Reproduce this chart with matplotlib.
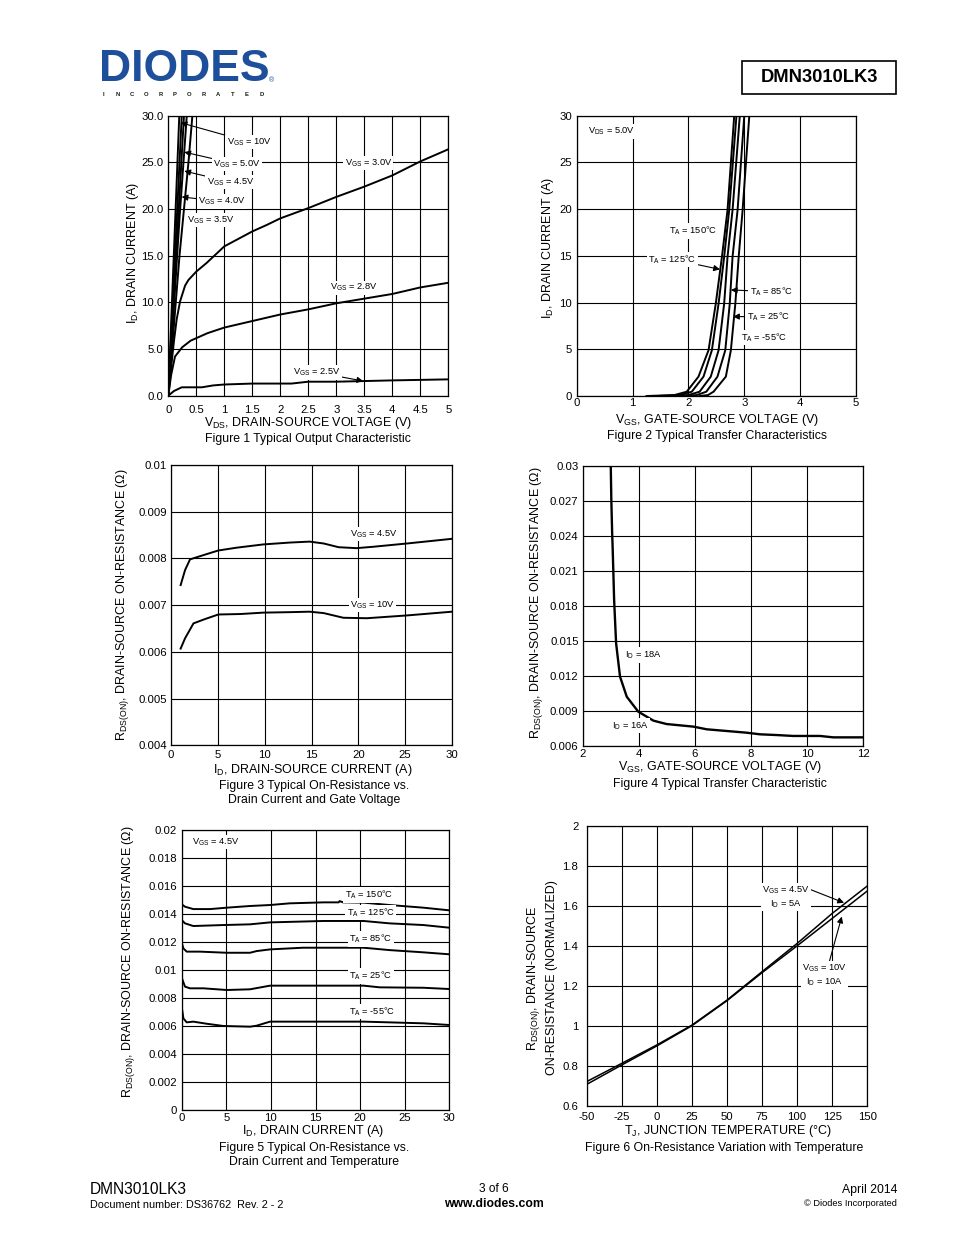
import matplotlib
matplotlib.use("Agg")
import matplotlib.pyplot as plt
from matplotlib.lines import Line2D
from matplotlib.patches import Rectangle

plt.rcParams['font.family'] = ['Liberation Sans', 'DejaVu Sans']
plt.rcParams['mathtext.fontset'] = 'custom'
plt.rcParams['mathtext.rm'] = 'Liberation Sans'
plt.rcParams['mathtext.it'] = 'Liberation Sans:italic'
plt.rcParams['mathtext.bf'] = 'Liberation Sans:bold'

# ---- Figure 1: output characteristic ----
f1_vgs10_vds = [0, 0.196]
f1_vgs10_id = [0, 30]
f1_vgs50_vds = [0, 0.24]
f1_vgs50_id = [0, 30]
f1_vgs45_vds = [0, 0.28]
f1_vgs45_id = [0, 30]
f1_vgs40_vds = [0, 0.20, 0.33]
f1_vgs40_id = [0, 19, 30]
f1_vgs35_vds = [0, 0.10, 0.20, 0.28, 0.36, 0.43]
f1_vgs35_id = [0, 7.5, 15, 20, 25, 30]
f1_vgs30_vds = [0, 0.05, 0.1, 0.15, 0.21, 0.3, 0.36, 0.5, 0.68, 1.0, 1.5, 1.76, 2.0, 2.5, 3.0, 3.5, 4.0, 4.5, 5.0]
f1_vgs30_id = [0, 3.0, 5.8, 8.2, 10.1, 11.8, 12.4, 13.3, 14.2, 16.0, 17.6, 18.3, 19.0, 20.1, 21.3, 22.4, 23.6, 25.1, 26.4]
f1_vgs28_vds = [0, 0.05, 0.12, 0.25, 0.4, 0.7, 1.0, 1.5, 2.0, 2.5, 3.0, 3.5, 4.0, 4.5, 5.0]
f1_vgs28_id = [0, 2.2, 4.2, 5.2, 5.9, 6.7, 7.3, 8.0, 8.7, 9.25, 9.9, 10.4, 10.9, 11.6, 12.1]
f1_vgs25_vds = [0, 0.1, 0.24, 0.6, 0.8, 1.0, 1.5, 2.2, 2.5, 3.0, 3.5, 4.0, 5.0]
f1_vgs25_id = [0, 0.5, 0.9, 0.9, 1.1, 1.2, 1.3, 1.3, 1.5, 1.5, 1.57, 1.64, 1.75]
f1_xticks = [0, 0.5, 1, 1.5, 2, 2.5, 3, 3.5, 4, 4.5, 5]
f1_xlabels = ["0", "0.5", "1", "1.5", "2", "2.5", "3", "3.5", "4", "4.5", "5"]
f1_yticks = [0, 5, 10, 15, 20, 25, 30]
f1_ylabels = ["0.0", "5.0", "10.0", "15.0", "20.0", "25.0", "30.0"]

# ---- Figure 2: transfer characteristics ----
f2_id = [0, 0.1, 0.46, 2.07, 4.9, 9.9, 14.9, 19.9, 30]
f2_vgs_150 = [1.25, 1.75, 1.97, 2.18, 2.36, 2.49, 2.60, 2.70, 2.82]
f2_vgs_125 = [1.45, 1.85, 2.06, 2.27, 2.42, 2.54, 2.64, 2.73, 2.86]
f2_vgs_85 = [1.65, 2.00, 2.20, 2.40, 2.54, 2.64, 2.70, 2.79, 2.92]
f2_vgs_25 = [1.90, 2.15, 2.32, 2.52, 2.66, 2.74, 2.79, 2.88, 3.00]
f2_vgs_m55 = [2.20, 2.35, 2.45, 2.67, 2.76, 2.84, 2.90, 2.97, 3.09]

# ---- Figure 3: RDS(on) vs ID and VGS ----
f3_id_45 = [1.03, 1.5, 2.03, 3.45, 5.05, 7.0, 9.86, 12.7, 14.8, 16.3, 17.9, 19.8, 21.6, 25.2, 30]
f3_r_45 = [0.00743, 0.00775, 0.00798, 0.00807, 0.00817, 0.00823, 0.0083, 0.00834, 0.00836,
           0.00832, 0.00824, 0.00822, 0.00825, 0.00832, 0.00842]
f3_id_10 = [1.03, 1.5, 2.4, 3.6, 5.05, 7.4, 9.86, 12.7, 14.8, 16.3, 18.4, 20.9, 25.2, 30]
f3_r_10 = [0.00607, 0.00629, 0.00661, 0.0067, 0.0068, 0.00681, 0.00684, 0.00685, 0.00686,
           0.00683, 0.00673, 0.00672, 0.00678, 0.00686]

# ---- Figure 4: RDS(on) vs VGS ----
f4_vgs = [3.0, 3.02, 3.05, 3.07, 3.12, 3.19, 3.33, 3.57, 3.98, 4.52, 4.99, 5.94, 6.42, 7.84,
          8.32, 8.9, 9.5, 10.46, 10.93, 12.0]
f4_r = [0.03, 0.0271, 0.0242, 0.02278, 0.0185, 0.0148, 0.01194, 0.01022, 0.00894, 0.00817,
        0.00788, 0.00766, 0.00743, 0.00714, 0.007, 0.00694, 0.00686, 0.00686, 0.00674, 0.00674]

# ---- Figure 5: RDS(on) vs ID and temperature ----
f5_id_150 = [0, 0.37, 1.3, 3.2, 5.04, 7.66, 9.9, 12.1, 15.9, 17.6, 17.7, 18.1, 20.4, 23.3, 27.1, 30]
f5_r_150 = [0.01467, 0.0145, 0.01433, 0.01433, 0.01443, 0.01455, 0.01462, 0.01474, 0.01481,
            0.01481, 0.0149, 0.01481, 0.01479, 0.01462, 0.01443, 0.01424]
f5_id_125 = [0, 0.37, 1.3, 4.67, 7.66, 9.9, 15.9, 20.4, 23.3, 27.1, 30]
f5_r_125 = [0.01355, 0.01331, 0.01312, 0.01319, 0.01324, 0.01338, 0.01348, 0.01348, 0.01331,
            0.01319, 0.013]
f5_id_85 = [0, 0.19, 0.56, 2.05, 5.04, 7.66, 8.4, 9.9, 13.6, 20.4, 23.3, 27.1, 30]
f5_r_85 = [0.01193, 0.01152, 0.01129, 0.01129, 0.01121, 0.01121, 0.01133, 0.01145, 0.01157,
           0.01157, 0.0114, 0.01124, 0.0111]
f5_id_25 = [0, 0.37, 0.93, 2.43, 5.04, 7.66, 9.9, 20.4, 22.2, 27.1, 30]
f5_r_25 = [0.00943, 0.00879, 0.00867, 0.00867, 0.00855, 0.0086, 0.00886, 0.00886, 0.00874,
           0.00871, 0.00862]
f5_id_m55 = [0, 0.19, 0.56, 1.3, 2.8, 4.67, 7.66, 8.4, 9.9, 20.4, 27.1, 30]
f5_r_m55 = [0.00736, 0.00652, 0.00624, 0.00629, 0.00614, 0.00598, 0.00593, 0.006, 0.00629,
            0.00629, 0.00617, 0.00605]

# ---- Figure 6: normalized RDS(on) vs temperature ----
f6_tj = [-50, -25, 0, 25, 50, 75, 100, 125, 150]
f6_r_vgs45 = [0.722, 0.813, 0.905, 1.004, 1.129, 1.271, 1.412, 1.562, 1.699]
f6_r_vgs10 = [0.708, 0.805, 0.900, 1.001, 1.126, 1.266, 1.400, 1.537, 1.674]

W, H = 954, 1235
fig = plt.figure(figsize=(W / 100, H / 100), dpi=100)


def px_axes(x0, y0, x1, y1):
    return fig.add_axes([x0 / W, 1 - y1 / H, (x1 - x0) / W, (y1 - y0) / H])


def ftext(x, y, s, **kw):
    fig.text(x / W, 1 - y / H, s, **kw)


def setup(ax, xlim, ylim, xt, xtl, yt, ytl, xpad=3.0, ypad=3.0):
    ax.set_xlim(xlim)
    ax.set_ylim(ylim)
    ax.set_xticks(xt, xtl)
    ax.set_yticks(yt, ytl)
    ax.tick_params(axis='x', length=0, labelsize=TK, pad=xpad)
    ax.tick_params(axis='y', length=0, labelsize=TK, pad=ypad)
    ax.grid(True, color='black', lw=0.8)
    ax.set_axisbelow(True)
    for s in ax.spines.values():
        s.set_linewidth(0.9)


LW = 1.4
BOX = dict(boxstyle='square,pad=0.15', fc='white', ec='none')
ARW = dict(arrowstyle='-|>', color='black', lw=0.8, mutation_scale=9, shrinkA=0, shrinkB=0)
AFS = 6.7
TK = 8.2
LBL = 9.0
CAP = 8.8

# ---------------- Figure 1 ----------------
ax1 = px_axes(168.3, 115.7, 448.3, 395.7)
setup(ax1, (0, 5), (0, 30), f1_xticks, f1_xlabels, f1_yticks, f1_ylabels, xpad=6.5, ypad=3.5)
for xs, ys in [(f1_vgs10_vds, f1_vgs10_id), (f1_vgs50_vds, f1_vgs50_id), (f1_vgs45_vds, f1_vgs45_id),
               (f1_vgs40_vds, f1_vgs40_id), (f1_vgs35_vds, f1_vgs35_id), (f1_vgs30_vds, f1_vgs30_id),
               (f1_vgs28_vds, f1_vgs28_id), (f1_vgs25_vds, f1_vgs25_id)]:
    ax1.plot(xs, ys, color='black', lw=LW, clip_on=True)
ax1.annotate(r'V$_{\mathrm{GS}}$ = 10V', xy=(0.22, 29.25), xytext=(1.04, 27.2), fontsize=AFS,
             va='center', ha='left', bbox=BOX, arrowprops=ARW)
ax1.annotate(r'V$_{\mathrm{GS}}$ = 5.0V', xy=(0.286, 26.1), xytext=(0.80, 24.8), fontsize=AFS,
             va='center', ha='left', bbox=BOX, arrowprops=ARW)
ax1.annotate(r'V$_{\mathrm{GS}}$ = 4.5V', xy=(0.286, 24.07), xytext=(0.685, 22.9), fontsize=AFS,
             va='center', ha='left', bbox=BOX, arrowprops=ARW)
ax1.annotate(r'V$_{\mathrm{GS}}$ = 4.0V', xy=(0.238, 21.3), xytext=(0.536, 20.8), fontsize=AFS,
             va='center', ha='left', bbox=BOX, arrowprops=ARW)
ax1.text(0.327, 18.8, r'V$_{\mathrm{GS}}$ = 3.5V', fontsize=AFS, va='center', ha='left', bbox=BOX)
ax1.text(3.15, 24.9, r'V$_{\mathrm{GS}}$ = 3.0V', fontsize=AFS, va='center', ha='left', bbox=BOX)
ax1.text(2.89, 11.57, r'V$_{\mathrm{GS}}$ = 2.8V', fontsize=AFS, va='center', ha='left', bbox=BOX)
ax1.annotate(r'V$_{\mathrm{GS}}$ = 2.5V', xy=(3.48, 1.57), xytext=(2.23, 2.5), fontsize=AFS,
             va='center', ha='left', bbox=BOX, arrowprops=ARW)
ftext(308, 423, r'V$_{\mathrm{DS}}$, DRAIN-SOURCE VOLTAGE (V)', fontsize=LBL, ha='center', va='center')
ftext(308, 439, 'Figure 1 Typical Output Characteristic', fontsize=CAP, ha='center', va='center')
ftext(133, 253, r'I$_{\mathrm{D}}$, DRAIN CURRENT (A)', fontsize=LBL, ha='center', va='center', rotation=90)

# ---------------- Figure 2 ----------------
ax2 = px_axes(576.7, 115.7, 856, 396)
setup(ax2, (0, 5), (0, 30), [0, 1, 2, 3, 4, 5], ["0", "1", "2", "3", "4", "5"],
      [0, 5, 10, 15, 20, 25, 30], ["0", "5", "10", "15", "20", "25", "30"], xpad=1.5, ypad=3.5)
for xs in [f2_vgs_150, f2_vgs_125, f2_vgs_85, f2_vgs_25, f2_vgs_m55]:
    ax2.plot(xs, f2_id, color='black', lw=LW)
ax2.text(0.21, 28.3, r'V$_{\mathrm{DS}}$ = 5.0V', fontsize=AFS, va='center', ha='left', bbox=BOX)
ax2.text(1.65, 17.66, r'T$_{\mathrm{A}}$ = 150°C', fontsize=AFS, va='center', ha='left', bbox=BOX)
ax2.annotate(r'T$_{\mathrm{A}}$ = 125°C', xy=(2.565, 13.55), xytext=(2.15, 14.63), fontsize=AFS,
             va='center', ha='right', bbox=BOX, arrowprops=ARW)
ax2.annotate(r'T$_{\mathrm{A}}$ = 85°C', xy=(2.76, 11.35), xytext=(3.10, 11.17), fontsize=AFS,
             va='center', ha='left', bbox=BOX, arrowprops=ARW)
ax2.annotate(r'T$_{\mathrm{A}}$ = 25°C', xy=(2.80, 8.5), xytext=(3.04, 8.49), fontsize=AFS,
             va='center', ha='left', bbox=BOX, arrowprops=ARW)
ax2.text(2.95, 6.24, r'T$_{\mathrm{A}}$ = -55°C', fontsize=AFS, va='center', ha='left', bbox=BOX)
ftext(717, 420, r'V$_{\mathrm{GS}}$, GATE-SOURCE VOLTAGE (V)', fontsize=LBL, ha='center', va='center')
ftext(717, 436, 'Figure 2 Typical Transfer Characteristics', fontsize=CAP, ha='center', va='center')
ftext(548, 248, r'I$_{\mathrm{D}}$, DRAIN CURRENT (A)', fontsize=LBL, ha='center', va='center', rotation=90)

# ---------------- Figure 3 ----------------
ax3 = px_axes(171, 465, 452, 745.3)
setup(ax3, (0, 30), (0.004, 0.01), [0, 5, 10, 15, 20, 25, 30], ["0", "5", "10", "15", "20", "25", "30"],
      [0.004, 0.005, 0.006, 0.007, 0.008, 0.009, 0.01],
      ["0.004", "0.005", "0.006", "0.007", "0.008", "0.009", "0.01"], xpad=3.5, ypad=3)
ax3.plot(f3_id_45, f3_r_45, color='black', lw=LW)
ax3.plot(f3_id_10, f3_r_10, color='black', lw=LW)
ax3.text(21.6, 0.00852, r'V$_{\mathrm{GS}}$ = 4.5V', fontsize=AFS, va='center', ha='center', bbox=BOX)
ax3.text(21.5, 0.0070, r'V$_{\mathrm{GS}}$ = 10V', fontsize=AFS, va='center', ha='center', bbox=BOX)
ftext(313, 770, r'I$_{\mathrm{D}}$, DRAIN-SOURCE CURRENT (A)', fontsize=LBL, ha='center', va='center')
ftext(314, 786, 'Figure 3 Typical On-Resistance vs.', fontsize=CAP, ha='center', va='center')
ftext(314, 800, 'Drain Current and Gate Voltage', fontsize=CAP, ha='center', va='center')
ftext(123, 605, r'R$_{\mathrm{DS(ON)}}$, DRAIN-SOURCE ON-RESISTANCE ($\Omega$)', fontsize=LBL,
      ha='center', va='center', rotation=90)

# ---------------- Figure 4 ----------------
ax4 = px_axes(582.7, 465.7, 863.3, 746)
setup(ax4, (2, 12), (0.006, 0.03), [2, 4, 6, 8, 10, 12], ["2", "4", "6", "8", "10", "12"],
      [0.006, 0.009, 0.012, 0.015, 0.018, 0.021, 0.024, 0.027, 0.03],
      ["0.006", "0.009", "0.012", "0.015", "0.018", "0.021", "0.024", "0.027", "0.03"], xpad=2.5, ypad=3)
ax4.plot(f4_vgs, f4_r, color='black', lw=LW + 0.3)
ax4.text(3.51, 0.0138, r'I$_{\mathrm{D}}$ = 18A', fontsize=AFS, va='center', ha='left', bbox=BOX)
ax4.text(3.03, 0.00777, r'I$_{\mathrm{D}}$ = 16A', fontsize=AFS, va='center', ha='left', bbox=BOX)
ftext(720, 767, r'V$_{\mathrm{GS}}$, GATE-SOURCE VOLTAGE (V)', fontsize=LBL, ha='center', va='center')
ftext(720, 784, 'Figure 4 Typical Transfer Characteristic', fontsize=CAP, ha='center', va='center')
ftext(537, 603, r'R$_{\mathrm{DS(ON)}}$, DRAIN-SOURCE ON-RESISTANCE ($\Omega$)', fontsize=LBL,
      ha='center', va='center', rotation=90)

# ---------------- Figure 5 ----------------
ax5 = px_axes(181.7, 829.7, 449.3, 1109.7)
setup(ax5, (0, 30), (0, 0.02), [0, 5, 10, 15, 20, 25, 30], ["0", "5", "10", "15", "20", "25", "30"],
      [0, 0.002, 0.004, 0.006, 0.008, 0.01, 0.012, 0.014, 0.016, 0.018, 0.02],
      ["0", "0.002", "0.004", "0.006", "0.008", "0.01", "0.012", "0.014", "0.016", "0.018", "0.02"],
      xpad=2.5, ypad=3.5)
for xs, ys in [(f5_id_150, f5_r_150), (f5_id_125, f5_r_125), (f5_id_85, f5_r_85),
               (f5_id_25, f5_r_25), (f5_id_m55, f5_r_m55)]:
    ax5.plot(xs, ys, color='black', lw=LW)
ax5.text(1.12, 0.0191, r'V$_{\mathrm{GS}}$ = 4.5V', fontsize=AFS, va='center', ha='left', bbox=BOX)
ax5.text(21.0, 0.01533, r'T$_{\mathrm{A}}$ = 150°C', fontsize=AFS, va='center', ha='center', bbox=BOX)
ax5.text(21.2, 0.0141, r'T$_{\mathrm{A}}$ = 125°C', fontsize=AFS, va='center', ha='center', bbox=BOX)
ax5.text(21.2, 0.0122, r'T$_{\mathrm{A}}$ = 85°C', fontsize=AFS, va='center', ha='center', bbox=BOX)
ax5.text(21.2, 0.00955, r'T$_{\mathrm{A}}$ = 25°C', fontsize=AFS, va='center', ha='center', bbox=BOX)
ax5.text(21.4, 0.0070, r'T$_{\mathrm{A}}$ = -55°C', fontsize=AFS, va='center', ha='center', bbox=BOX)
ftext(313, 1131, r'I$_{\mathrm{D}}$, DRAIN CURRENT (A)', fontsize=LBL, ha='center', va='center')
ftext(314, 1148, 'Figure 5 Typical On-Resistance vs.', fontsize=CAP, ha='center', va='center')
ftext(314, 1162, 'Drain Current and Temperature', fontsize=CAP, ha='center', va='center')
ftext(129, 962, r'R$_{\mathrm{DS(ON)}}$, DRAIN-SOURCE ON-RESISTANCE ($\Omega$)', fontsize=LBL,
      ha='center', va='center', rotation=90)

# ---------------- Figure 6 ----------------
ax6 = px_axes(586.7, 825.7, 867.3, 1106)
setup(ax6, (-50, 150), (0.6, 2.0), [-50, -25, 0, 25, 50, 75, 100, 125, 150],
      ["-50", "-25", "0", "25", "50", "75", "100", "125", "150"],
      [0.6, 0.8, 1.0, 1.2, 1.4, 1.6, 1.8, 2.0],
      ["0.6", "0.8", "1", "1.2", "1.4", "1.6", "1.8", "2"], xpad=4, ypad=6)
ax6.plot(f6_tj, f6_r_vgs45, color='black', lw=1.1)
ax6.plot(f6_tj, f6_r_vgs10, color='black', lw=1.1)
a45 = dict(ARW, relpos=(1.0, 0.8))
a10 = dict(ARW, relpos=(0.6, 1.0))
ax6.annotate('V$_{\\mathrm{GS}}$ = 4.5V\nI$_{\\mathrm{D}}$ = 5A', xy=(133.4, 1.615), xytext=(92.0, 1.644),
             fontsize=AFS, va='center', ha='center', bbox=BOX, arrowprops=a45)
ax6.annotate('V$_{\\mathrm{GS}}$ = 10V\nI$_{\\mathrm{D}}$ = 10A', xy=(131.8, 1.546), xytext=(119.6, 1.253),
             fontsize=AFS, va='center', ha='center', bbox=BOX, arrowprops=a10)
ftext(728, 1131, r'T$_{\mathrm{J}}$, JUNCTION TEMPERATURE (°C)', fontsize=LBL, ha='center', va='center')
ftext(724, 1148, 'Figure 6 On-Resistance Variation with Temperature', fontsize=CAP, ha='center', va='center')
ftext(534, 978, r'R$_{\mathrm{DS(ON)}}$, DRAIN-SOURCE', fontsize=LBL, ha='center', va='center', rotation=90)
ftext(552, 978, 'ON-RESISTANCE (NORMALIZED)', fontsize=LBL, ha='center', va='center', rotation=90)

# ---------------- header ----------------
ftext(99, 90, 'DIODES', fontsize=32, fontweight='bold', color='#1d4f9b', ha='left', va='bottom')
fig.add_artist(Line2D([100 / W, 270 / W], [1 - 68 / H, 1 - 68 / H], color='white', lw=1.2))
for i, ch in enumerate('INCORPORATED'):
    ftext(103 + i * 14.4, 94, ch, fontsize=4.2, fontweight='bold', color='#1a1a1a', ha='center', va='center')
ftext(272, 81, '®', fontsize=5, color='#1d4f9b', ha='center', va='center')
fig.add_artist(Rectangle((742 / W, 1 - 94 / H), 154 / W, 33 / H, transform=fig.transFigure,
                         fill=False, lw=1.2, ec='black'))
ftext(819, 78, 'DMN3010LK3', fontsize=13.2, fontweight='bold', ha='center', va='center')

# ---------------- footer ----------------
ftext(90, 1190, 'DMN3010LK3', fontsize=11.2, ha='left', va='center')
ftext(90, 1205, 'Document number: DS36762  Rev. 2 - 2', fontsize=7.8, ha='left', va='center')
ftext(494, 1189, '3 of 6', fontsize=8.6, ha='center', va='center')
ftext(494, 1204, 'www.diodes.com', fontsize=8.8, fontweight='bold', ha='center', va='center')
ftext(897, 1190, 'April 2014', fontsize=8.8, ha='right', va='center')
ftext(897, 1204, '© Diodes Incorporated', fontsize=6.7, ha='right', va='center')

fig.savefig('out.png', dpi=100)
